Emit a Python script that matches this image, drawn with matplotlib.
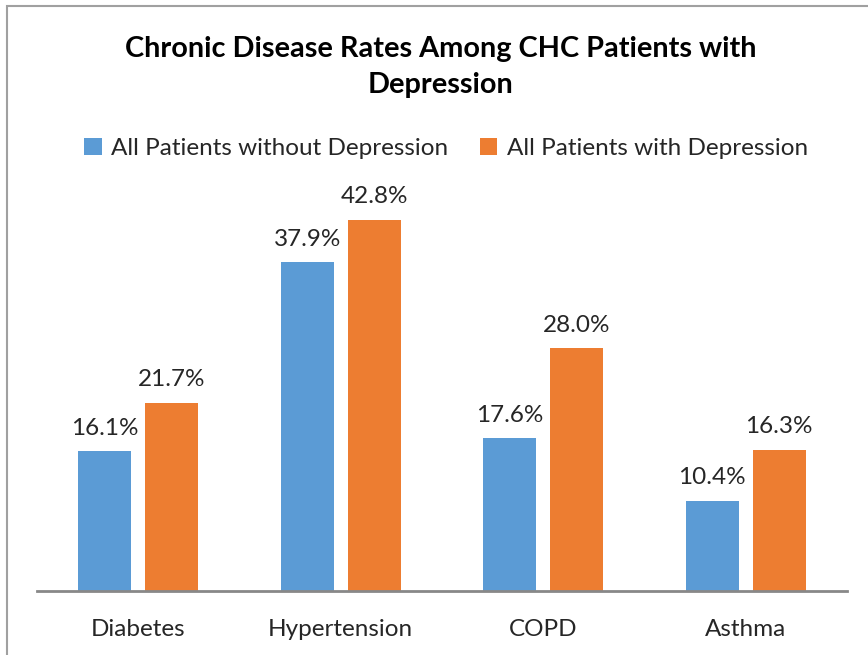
import numpy as np
import matplotlib.pyplot as plt
from matplotlib.patches import Rectangle

categories = ['Diabetes', 'Hypertension', 'COPD', 'Asthma']
without_dep = [16.1, 37.9, 17.6, 10.4]
with_dep = [21.7, 42.8, 28.0, 16.3]
series_names = ['All Patients without Depression', 'All Patients with Depression']

blue = '#5B9BD5'
orange = '#ED7D31'
plt.rcParams['font.family'] = ['Lato', 'DejaVu Sans']

fig = plt.figure(figsize=(8.68, 6.55), dpi=100)
ax = fig.add_axes([0.0426, 0.0977, 0.9332, 0.6618])

x = np.arange(len(categories))
w = 0.262
off = 0.165
b1 = ax.bar(x - off, without_dep, w, color=blue, label=series_names[0])
b2 = ax.bar(x + off, with_dep, w, color=orange, label=series_names[1])

for bars, vals in ((b1, without_dep), (b2, with_dep)):
    for r, v in zip(bars, vals):
        ax.annotate('%.1f%%' % v, (r.get_x() + r.get_width() / 2, v),
                    xytext=(0, 9), textcoords='offset points',
                    ha='center', va='bottom', fontsize=17.5, color='#262626')

ax.set_xlim(-0.5, 3.5)
ax.set_ylim(0, 50)
ax.set_yticks([])
ax.set_xticks(x)
ax.set_xticklabels(categories, fontsize=17.5, color='#262626')
ax.tick_params(axis='x', length=0, pad=20)
for s in ('top', 'right', 'left'):
    ax.spines[s].set_visible(False)
ax.spines['bottom'].set_color('#888888')
ax.spines['bottom'].set_linewidth(2)

fig.text(0.508, 0.8977, 'Chronic Disease Rates Among CHC Patients with\nDepression',
         ha='center', va='center', fontsize=20.8, fontweight='bold',
         linespacing=1.45, color='black')

fig.legend(loc='center', bbox_to_anchor=(0.514, 0.774), ncol=2, frameon=False,
           fontsize=17.5, handlelength=0.7, handleheight=0.7, handletextpad=0.4,
           columnspacing=1.3, labelcolor='#262626')

fig.patches.append(Rectangle((7 / 868, -0.1), 1.2, 1 - 6 / 655 + 0.1,
                             transform=fig.transFigure, fill=False,
                             edgecolor='#A0A0A0', linewidth=1.5))

fig.savefig('out.png', dpi=100)
